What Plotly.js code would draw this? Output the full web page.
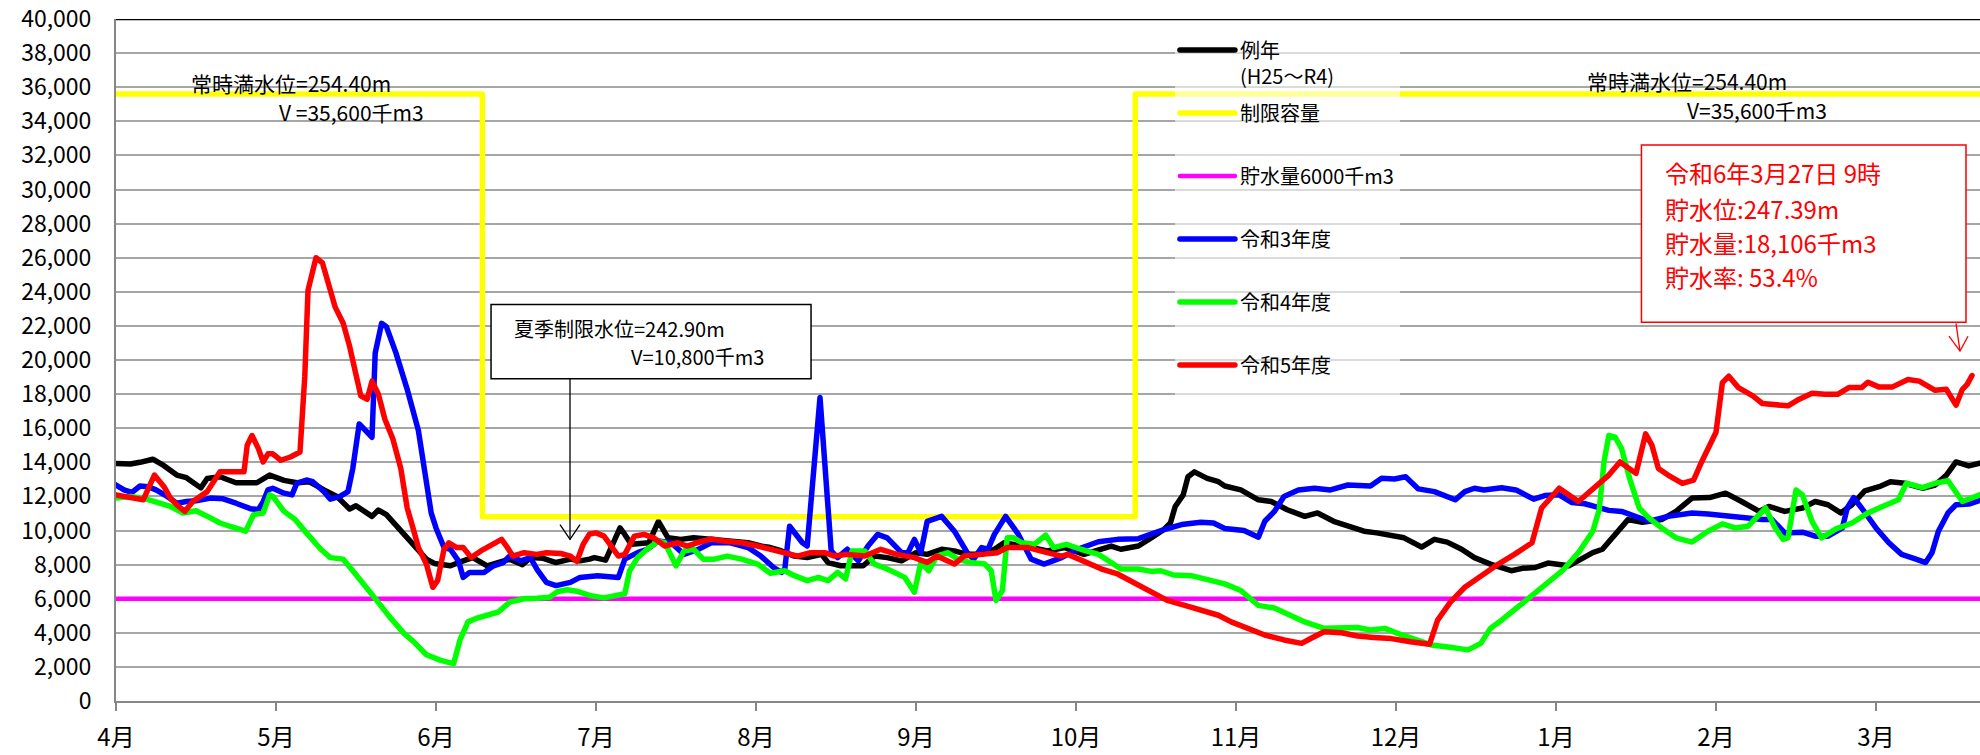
<!DOCTYPE html>
<html>
<head>
<meta charset="utf-8">
<script src="https://cdn.plot.ly/plotly-3.0.1.min.js"></script>
<style>
html,body{margin:0;padding:0;background:#fff;}
#chart{width:1980px;height:755px;}
.js-line{stroke-linejoin:round;stroke-linecap:round;}
</style>
</head>
<body>
<div id="chart"></div>
<script>
// x = months elapsed since 4月1日 (0 = 4月, 11 = 3月), y = 貯水量 (千m3)
const monthTicks = [0,1,2,3,4,5,6,7,8,9,10,11];
const monthLabels = ['4月','5月','6月','7月','8月','9月','10月','11月','12月','1月','2月','3月'];

const seriesNames = ['例年<br>(H25～R4)', '制限容量<br>\u00a0', '貯水量6000千m3<br>\u00a0', '令和3年度<br>\u00a0', '令和4年度<br>\u00a0', '令和5年度<br>\u00a0'];

const normalPts = [[0,13930],[0.09,13900],[0.15,14000],[0.23,14180],[0.30,13800],[0.38,13250],[0.44,13100],[0.53,12500],[0.57,13050],[0.65,13150],[0.75,12800],[0.88,12800],[0.96,13250],[1.05,12940],[1.13,12800],[1.21,12860],[1.30,12380],[1.38,12000],[1.46,11260],[1.50,11450],[1.60,10830],[1.64,11200],[1.69,10930],[1.78,9960],[1.88,8900],[1.94,8320],[1.99,8070],[2.09,7930],[2.17,8220],[2.23,8410],[2.32,7930],[2.40,8120],[2.46,8320],[2.54,8000],[2.59,8410],[2.67,8370],[2.75,8120],[2.84,8320],[2.90,8220],[2.96,8320],
[2.99,8410],[3.06,8260],[3.15,10150],[3.18,9770],[3.22,9190],[3.33,9280],[3.39,10540],[3.45,9570],[3.53,9480],[3.61,9570],[3.74,9480],[3.84,9380],[3.95,9280],[4.03,9090],[4.09,9000],[4.16,8800],[4.24,8500],[4.32,8410],[4.41,8600],[4.45,8120],[4.53,7930],[4.61,7930],[4.67,7930],[4.74,8500],[4.82,8410],[4.91,8220],[5.00,8700],[5.07,8600],[5.16,8900],[5.24,8800],[5.32,8600],[5.41,8600],[5.49,8900],[5.55,9280],[5.62,9190],[5.72,9000],[5.82,8800],[5.93,9000],
[6.05,8600],[6.14,8900],[6.22,9090],[6.28,8900],[6.39,9090],[6.47,9570],[6.55,10060],[6.59,10440],[6.62,11410],[6.67,12090],[6.70,13150],[6.74,13440],[6.82,13060],[6.89,12860],[6.93,12610],[7.03,12380],[7.14,11800],[7.22,11700],[7.32,11220],[7.43,10830],[7.51,11030],[7.61,10540],[7.72,10250],[7.80,9960],[7.88,9860],[7.97,9670],[8.05,9570],[8.16,9030],[8.24,9480],[8.32,9320],[8.41,8900],[8.49,8410],[8.59,8030],[8.72,7640],
[8.79,7780],[8.87,7830],[8.95,8090],[9.08,7930],[9.16,8320],[9.23,8700],[9.29,8900],[9.37,9770],[9.45,10640],[9.54,10480],[9.66,10640],[9.75,11120],[9.85,11900],[9.96,11930],[10.06,12190],[10.16,11700],[10.27,11120],[10.33,11410],[10.43,11120],[10.54,11320],[10.62,11700],[10.70,11510],[10.78,11030],[10.85,11510],[10.93,12320],[11.02,12570],[11.09,12860],[11.18,12770],[11.29,12480],[11.37,12670],[11.44,13250],[11.50,14020],[11.58,13790],[11.66,13980]];

const limitPts = [[0,35600],[2.29,35600],[2.29,10800],[6.37,10800],[6.37,35600],[11.66,35600]];

const minPts = [[0,6000],[11.66,6000]];

const r3Pts = [[0,12670],[0.05,12380],[0.10,12240],[0.15,12610],[0.20,12570],[0.25,12380],[0.32,12000],[0.38,11600],[0.44,11700],[0.50,11740],[0.59,11900],[0.67,11860],[0.75,11600],[0.84,11280],[0.89,11220],[0.92,11700],[0.95,12380],[0.98,12480],[1.05,12190],[1.10,12090],[1.13,12770],[1.19,12960],[1.23,12860],[1.30,12280],[1.34,11840],[1.40,12000],[1.45,12280],[1.48,13640],[1.52,16250],[1.56,15860],[1.60,15470],[1.62,20400],[1.66,22150],[1.69,21950],[1.75,20400],[1.82,18280],[1.85,17300],[1.89,15860],[1.93,13440],[1.97,11030],[2.00,10150],[2.05,9000],[2.09,8900],[2.14,8220],[2.17,7250],[2.21,7540],[2.30,7540],[2.36,7930],[2.42,8120],[2.46,8500],[2.53,8220],[2.59,8410],[2.63,7740],[2.69,6960],[2.75,6770],[2.84,6960],[2.90,7250],[2.96,7290],
[3.01,7350],[3.14,7250],[3.18,8320],[3.26,8700],[3.32,8900],[3.39,9380],[3.47,9280],[3.55,8600],[3.64,8900],[3.72,9280],[3.84,9280],[3.95,9000],[4.03,8500],[4.11,7830],[4.16,7540],[4.18,7740],[4.21,10250],[4.29,9280],[4.32,9090],[4.40,17800],[4.47,8800],[4.51,8410],[4.57,8900],[4.64,8220],[4.70,9090],[4.76,9770],[4.82,9570],[4.91,8700],[4.95,8700],[4.99,9480],[5.03,8700],[5.07,10540],[5.16,10830],[5.24,9960],[5.32,8700],[5.36,8320],[5.41,9000],[5.45,8900],[5.49,9770],[5.56,10830],[5.64,9770],[5.72,8320],[5.80,8030],[5.91,8410],
[6.01,8900],[6.14,9340],[6.26,9480],[6.39,9520],[6.47,9800],[6.55,10060],[6.66,10350],[6.78,10480],[6.86,10440],[6.93,10120],[7.05,10000],[7.14,9610],[7.18,10540],[7.24,11120],[7.30,12000],[7.39,12380],[7.49,12480],[7.59,12380],[7.70,12670],[7.84,12610],[7.91,13060],[7.99,13020],[8.06,13150],[8.14,12440],[8.24,12280],[8.37,11800],[8.43,12280],[8.49,12480],[8.55,12380],[8.66,12510],
[8.75,12380],[8.86,11840],[8.93,12050],[9.02,12090],[9.10,11640],[9.18,11570],[9.24,11410],[9.33,11180],[9.41,11120],[9.50,10830],[9.58,10540],[9.70,10830],[9.85,11030],[9.95,10970],[10.08,10830],[10.16,10740],[10.29,10640],[10.35,10640],[10.43,9860],[10.54,9900],[10.62,9670],[10.70,9670],[10.79,10150],[10.82,11320],[10.86,11930],[10.91,11320],[11.00,10150],[11.08,9280],[11.16,8600],[11.25,8320],[11.31,8120],[11.35,8700],[11.39,9960],[11.45,11030],[11.50,11510],[11.58,11550],[11.66,11800]];

const r4Pts = [[0,11900],[0.09,12000],[0.17,11900],[0.28,11600],[0.34,11410],[0.42,11030],[0.50,11160],[0.59,10740],[0.65,10440],[0.71,10250],[0.81,9960],[0.86,10930],[0.92,11030],[0.96,12090],[0.98,12000],[1.05,11120],[1.12,10640],[1.19,9860],[1.28,8900],[1.34,8410],[1.42,8320],[1.48,7640],[1.55,6870],[1.63,5900],[1.71,4930],[1.80,3970],[1.86,3480],[1.94,2710],[2.03,2380],[2.11,2190],[2.15,3580],[2.20,4640],[2.25,4840],[2.32,5030],[2.39,5220],[2.46,5800],[2.55,6000],[2.63,6030],[2.71,6090],[2.76,6420],[2.82,6520],[2.88,6440],[2.96,6190],
[3.05,6050],[3.11,6190],[3.18,6290],[3.21,7640],[3.26,8410],[3.32,8900],[3.39,9380],[3.43,9280],[3.50,7930],[3.55,8800],[3.61,8900],[3.67,8320],[3.74,8320],[3.82,8500],[3.91,8320],[4.01,8030],[4.09,7490],[4.18,7640],[4.24,7350],[4.32,7060],[4.39,7250],[4.45,7060],[4.51,7540],[4.56,7160],[4.60,8800],[4.68,8800],[4.74,8030],[4.82,7740],[4.93,7250],[4.99,6380],[5.03,8120],[5.08,7640],[5.13,8500],[5.20,8700],[5.26,8320],[5.34,8120],[5.43,8030],[5.47,7640],[5.50,5900],[5.54,6480],[5.57,9570],[5.61,9570],[5.66,9280],[5.74,9190],[5.81,9730],[5.86,9000],
[5.94,9190],[6.03,8900],[6.14,8600],[6.22,8120],[6.28,7740],[6.39,7740],[6.47,7600],[6.53,7640],[6.61,7390],[6.72,7350],[6.82,7160],[6.93,6870],[7.03,6480],[7.14,5610],[7.24,5450],[7.34,5030],[7.43,4640],[7.55,4260],[7.68,4310],[7.76,4310],[7.84,4160],[7.93,4260],[8.01,3970],[8.11,3620],[8.22,3290],[8.34,3150],[8.45,3000],[8.53,3380],[8.59,4260],
[8.66,4740],[8.79,5710],[8.91,6670],[9.04,7640],[9.14,8700],[9.23,9960],[9.27,11220],[9.30,14020],[9.33,15570],[9.37,15470],[9.41,14800],[9.46,13060],[9.52,11320],[9.58,10740],[9.66,10150],[9.75,9570],[9.85,9320],[9.95,9960],[10.04,10390],[10.12,10150],[10.20,10250],[10.31,11320],[10.37,10150],[10.42,9480],[10.45,9570],[10.50,12380],[10.54,12090],[10.60,10540],[10.66,9570],[10.75,10100],[10.85,10440],[10.95,11030],[11.04,11410],[11.14,11800],[11.19,12770],[11.29,12510],[11.37,12770],[11.45,12920],[11.54,11700],[11.66,12130]];

const r5Pts = [[0,12090],[0.09,11930],[0.17,11800],[0.24,13250],[0.30,12570],[0.34,11900],[0.38,11500],[0.43,11120],[0.48,11700],[0.57,12280],[0.65,13440],[0.73,13440],[0.80,13440],[0.82,15000],[0.85,15570],[0.89,14800],[0.92,14020],[0.95,14500],[0.98,14500],[1.03,14120],[1.09,14310],[1.15,14600],[1.18,19050],[1.20,24080],[1.25,26000],[1.29,25700],[1.33,24470],[1.37,23100],[1.42,22150],[1.46,20800],[1.53,17900],[1.57,17700],[1.60,18760],[1.64,17990],[1.68,16540],[1.73,15380],[1.78,13640],[1.82,11320],[1.85,10350],[1.89,9000],[1.94,8030],[1.98,6670],[2.01,7060],[2.05,8900],[2.08,9280],[2.13,9000],[2.17,9000],[2.22,8410],[2.28,8800],[2.34,9090],[2.38,9280],[2.41,9480],[2.44,9090],[2.48,8500],[2.55,8700],[2.63,8600],[2.69,8700],[2.78,8650],[2.84,8500],[2.88,8180],[2.92,9190],[2.96,9800],
[3.00,9860],[3.05,9670],[3.14,8500],[3.18,8600],[3.24,9670],[3.30,9770],[3.36,9570],[3.43,9090],[3.51,9280],[3.57,9090],[3.63,9280],[3.72,9500],[3.80,9380],[3.91,9280],[4.01,9090],[4.09,8900],[4.18,8700],[4.26,8500],[4.34,8700],[4.43,8700],[4.49,8500],[4.57,8600],[4.68,8500],[4.78,8900],[4.88,8600],[4.99,8410],[5.07,8120],[5.13,8500],[5.24,8030],[5.30,8500],[5.41,8600],[5.51,8700],[5.57,9000],[5.70,9000],[5.82,8700],[5.91,8500],
[5.95,8600],[6.05,8220],[6.16,7740],[6.26,7450],[6.36,6960],[6.47,6480],[6.57,5900],[6.68,5610],[6.78,5320],[6.89,5030],[6.97,4640],[7.05,4350],[7.18,3870],[7.30,3580],[7.41,3380],[7.47,3680],[7.55,4060],[7.66,4000],[7.76,3810],[7.86,3730],[7.97,3660],[8.09,3480],[8.21,3330],[8.26,4740],[8.34,5800],[8.43,6670],[8.53,7350],[8.64,8030],[8.74,8600],
[8.85,9280],[8.91,11320],[9.02,12480],[9.14,11700],[9.23,12480],[9.33,13250],[9.40,14020],[9.50,13350],[9.56,15670],[9.60,14990],[9.64,13640],[9.70,13250],[9.79,12770],[9.86,12960],[9.91,14020],[10.00,15760],[10.04,18670],[10.08,19050],[10.14,18380],[10.23,17900],[10.29,17450],[10.37,17370],[10.45,17310],[10.52,17700],[10.60,18050],[10.68,17990],[10.76,17990],[10.83,18380],[10.91,18380],[10.95,18700],[11.02,18410],[11.10,18410],[11.20,18860],[11.27,18760],[11.37,18220],[11.44,18280],[11.50,17350],[11.54,18280],[11.57,18570],[11.60,19090]];

const seriesPts = [normalPts, limitPts, minPts, r3Pts, r4Pts, r5Pts];
const seriesColors = ['#000000','#FFFF00','#FF00FF','#0000FF','#00FF00','#FF0000'];
const seriesWidths = [5.5,5.5,4.5,5.5,5.5,5.5];

const FONT = '"Noto Sans CJK JP", "Noto Sans", sans-serif';

const traces = seriesPts.map((pts, i) => ({
  type: 'scatter',
  mode: 'lines',
  name: seriesNames[i],
  legendgroup: 'g' + i,
  x: pts.map(p => p[0]),
  y: pts.map(p => p[1]),
  line: {color: seriesColors[i], width: seriesWidths[i]},
  hoverinfo: 'skip'
}));

const annFontBlack = {family: FONT, size: 21, color: '#000'};
const annFontRed = {family: FONT, size: 24, color: '#FF0000'};
const annFontBox = {family: FONT, size: 20, color: '#000'};

const annotations = [
  {x: 0.456, y: 36221, xref:'x', yref:'y', xanchor:'left', yanchor:'middle', text:'常時満水位=254.40m', showarrow:false, font: annFontBlack},
  {x: 1.006, y: 34535, xref:'x', yref:'y', xanchor:'left', yanchor:'middle', text:'V =35,600千m3', showarrow:false, font: annFontBlack},
  {x: 9.181, y: 36337, xref:'x', yref:'y', xanchor:'left', yanchor:'middle', text:'常時満水位=254.40m', showarrow:false, font: annFontBlack},
  {x: 9.806, y: 34651, xref:'x', yref:'y', xanchor:'left', yanchor:'middle', text:'V=35,600千m3', showarrow:false, font: annFontBlack},
  {x: 2.475, y: 21860, xref:'x', yref:'y', xanchor:'left', yanchor:'middle', text:'夏季制限水位=242.90m', showarrow:false, font: annFontBox},
  {x: 3.206, y: 20233, xref:'x', yref:'y', xanchor:'left', yanchor:'middle', text:'V=10,800千m3', showarrow:false, font: annFontBox},
  {x: 9.669, y: 30988, xref:'x', yref:'y', xanchor:'left', yanchor:'middle', text:'令和6年3月27日 9時', showarrow:false, font: annFontRed},
  {x: 9.669, y: 28895, xref:'x', yref:'y', xanchor:'left', yanchor:'middle', text:'貯水位:247.39m', showarrow:false, font: annFontRed},
  {x: 9.669, y: 26919, xref:'x', yref:'y', xanchor:'left', yanchor:'middle', text:'貯水量:18,106千m3', showarrow:false, font: annFontRed},
  {x: 9.669, y: 24884, xref:'x', yref:'y', xanchor:'left', yanchor:'middle', text:'貯水率: 53.4%', showarrow:false, font: annFontRed}
];

const shapes = [
  {type:'line', xref:'paper', yref:'y', x0:0, x1:1, y0:40000, y1:40000, line:{color:'#000', width:2.5}},
  {type:'rect', xref:'x', yref:'y', x0:2.344, x1:4.344, y0:18895, y1:23256, fillcolor:'#fff', line:{color:'#000', width:1.5}, layer:'above'},
  {type:'line', xref:'x', yref:'y', x0:2.8375, x1:2.8375, y0:18895, y1:9477, line:{color:'#000', width:1.3}},
  {type:'path', xref:'x', yref:'y', path:'M2.775,10349 L2.8375,9477 L2.9,10349', line:{color:'#000', width:1.3}},
  {type:'rect', xref:'x', yref:'y', x0:9.534, x1:11.5625, y0:22209, y1:32616, fillcolor:'#fff', line:{color:'#FF0000', width:1.5}, layer:'above'},
  {type:'line', xref:'x', yref:'y', x0:11.5, x1:11.525, y0:22151, y1:20523, line:{color:'#FF0000', width:1.3}},
  {type:'path', xref:'x', yref:'y', path:'M11.456,21395 L11.525,20523 L11.575,21395', line:{color:'#FF0000', width:1.3}}
];

const layout = {
  width: 1980, height: 755,
  margin: {l:116, r:0, t:19, b:54, pad:0},
  paper_bgcolor:'#fff', plot_bgcolor:'#fff',
  font: {family: FONT, color:'#000', size:20},
  showlegend: true,
  xaxis: {
    range:[0, 11.65], tickmode:'array', tickvals: monthTicks, ticktext: monthLabels,
    ticks:'outside', ticklen:8, tickwidth:2, tickcolor:'#868686',
    showline:true, linecolor:'#868686', linewidth:2,
    showgrid:false, zeroline:false, tickfont:{size:24, family: FONT},
    ticklabelstandoff: 6, fixedrange:true
  },
  yaxis: {
    range:[0, 40000], tick0:0, dtick:2000, tickformat:',d',
    showline:true, linecolor:'#868686', linewidth:2,
    showgrid:true, gridcolor:'#a6a6a6', gridwidth:2, zeroline:false,
    ticks:'', tickfont:{size:23, family: FONT}, ticklabelstandoff: 18,
    ticklabeloverflow:'allow', fixedrange:true
  },
  legend: {
    x: 0.5681, xanchor:'left', y: 0.983, yanchor:'top',
    bgcolor:'rgba(255,255,255,0.6)', borderwidth:0,
    font:{size:20, family: FONT, color:'#000'},
    itemwidth: 55, tracegroupgap: 8, traceorder:'grouped', valign:'top'
  },
  shapes: shapes,
  annotations: annotations
};

Plotly.newPlot('chart', traces, layout, {displayModeBar:false, staticPlot:true});
</script>
</body>
</html>
